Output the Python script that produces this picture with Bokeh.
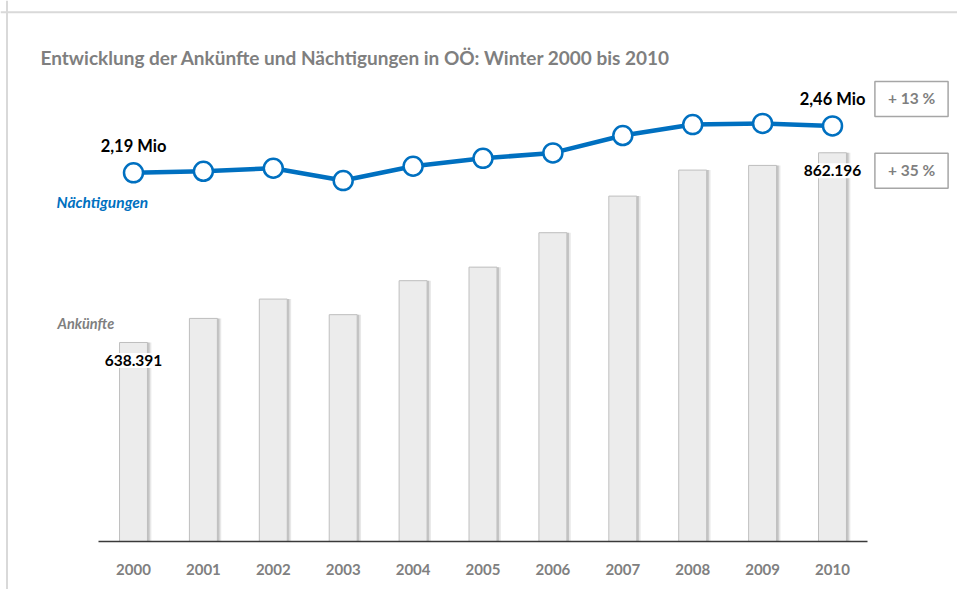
from bokeh.plotting import figure
from bokeh.models import Range1d, Label, ColumnDataSource, Span, FixedTicker
from bokeh.transform import dodge
from bokeh.embed import file_html
from bokeh.resources import INLINE

# ---------------- data ----------------
years = ["2000", "2001", "2002", "2003", "2004", "2005",
         "2006", "2007", "2008", "2009", "2010"]
arrivals = [638391, 666800, 689600, 671200, 711300, 727300,
            767900, 811100, 841800, 847300, 862196]          # Ankünfte
nights_mio = [2.186, 2.195, 2.213, 2.140, 2.225, 2.272,
              2.304, 2.407, 2.472, 2.479, 2.464]             # Nächtigungen (Mio)
title_text = "Entwicklung der Ankünfte und Nächtigungen in OÖ: Winter 2000 bis 2010"
series_names = ["Ankünfte", "Nächtigungen"]

# ---------------- layout / styling ----------------
BLUE = "#0070c0"
GRAY_TXT = "#7f7f7f"
FONT = "Lato"

W, H = 957, 589              # canvas; frame fills the whole canvas
PX_PER_CAT = 69.9            # horizontal pixels per category
FIRST_PX = 133               # pixel x of the first category centre
BASE = 403600                # bar baseline value (arrivals axis)
UNITS_PER_PX = 1179.8        # arrivals per pixel
BASE_PX = 541                # baseline pixel y
N_PX_PER_MIO = 168.66        # pixels per million nights


def cx(px):  # pixel x -> category coordinate
    return (px - FIRST_PX) / PX_PER_CAT


def cy(py):  # pixel y -> arrivals coordinate
    return BASE + (BASE_PX - py) * UNITS_PER_PX


xs = list(range(len(years)))
src = ColumnDataSource(dict(x=xs, arr=arrivals, nights=nights_mio))

p = figure(width=W, height=H,
           x_range=Range1d(cx(0), cx(W)),
           y_range=Range1d(cy(H), cy(0)),
           output_backend="svg", toolbar_location=None,
           y_axis_location=None, min_border=0)
p.extra_y_ranges = {"nights": Range1d(-(H - BASE_PX) / N_PX_PER_MIO,
                                      BASE_PX / N_PX_PER_MIO)}
p.outline_line_color = None
p.xgrid.grid_line_color = None
p.ygrid.grid_line_color = None
p.background_fill_color = "white"
p.border_fill_color = "white"

# x axis drawn inside the frame at the baseline
ax = p.xaxis[0]
ax.fixed_location = BASE
ax.bounds = (xs[0] - 0.5, xs[-1] + 0.5)
ax.ticker = FixedTicker(ticks=xs)
ax.major_label_overrides = {x: y for x, y in zip(xs, years)}
ax.axis_line_color = "#3a3a3a"
ax.axis_line_width = 1.5
ax.major_tick_line_color = None
ax.minor_tick_line_color = None
ax.major_label_text_font = FONT
ax.major_label_text_font_style = "bold"
ax.major_label_text_font_size = "15px"
ax.major_label_text_color = "#808080"
ax.major_label_standoff = 16

# outer frame lines (top / left)
p.add_layout(Span(location=cx(6.5), dimension="height",
                  line_color="#d9d9d9", line_width=2))
p.add_layout(Span(location=cy(11.75), dimension="width",
                  line_color="#d9d9d9", line_width=2))

# bar shadows
for off, alpha in [(0.03, 0.35), (0.055, 0.18)]:
    p.vbar(x=dodge("x", off), top="arr", bottom=BASE,
           width=0.4, source=src, fill_color="#808080", fill_alpha=alpha,
           line_color=None)
# bars
p.vbar(x="x", top="arr", bottom=BASE, width=0.4, source=src,
       fill_color="#ececec", line_color="#bfbfbf", line_width=1)

# line
p.line(x="x", y="nights", source=src, y_range_name="nights",
       line_color=BLUE, line_width=4.5)
p.scatter(x="x", y="nights", source=src, y_range_name="nights",
          size=19, fill_color="white", line_color=BLUE, line_width=2.5)

# ---------------- annotations ----------------
def fmt_mio(v):
    return f"{v:.2f}".replace(".", ",") + " Mio"


def fmt_int(v):
    return f"{v:,}".replace(",", ".")


first, last = xs[0], xs[-1]

# title
p.add_layout(Label(x=cx(40), y=cy(57), text=title_text,
                   text_font=FONT, text_font_style="bold",
                   text_font_size="19px", text_color=GRAY_TXT,
                   text_align="left", text_baseline="middle"))

# Mio labels
for xi, v in [(first, nights_mio[0]), (last, nights_mio[-1])]:
    p.add_layout(Label(x=xi, y=v, y_range_name="nights", text=fmt_mio(v),
                       y_offset=27, text_font=FONT, text_font_style="bold",
                       text_font_size="16.5px", text_color="black",
                       text_align="center", text_baseline="middle"))

# arrival labels
for xi, v in [(first, arrivals[0]), (last, arrivals[-1])]:
    p.add_layout(Label(x=xi, y=v, text=fmt_int(v), y_offset=-18,
                       text_font=FONT, text_font_style="bold",
                       text_font_size="15.5px", text_color="black",
                       text_align="center", text_baseline="middle",
                       background_fill_color="white",
                       padding=dict(left=2, right=2, top=2, bottom=2)))

# series names
p.add_layout(Label(x=first, y=nights_mio[0], y_range_name="nights",
                   text=series_names[1], x_offset=-77, y_offset=-29,
                   text_font=FONT, text_font_style="bold italic",
                   text_font_size="15.5px", text_color=BLUE,
                   text_align="left", text_baseline="middle"))
p.add_layout(Label(x=first, y=arrivals[0], text=series_names[0],
                   x_offset=-76, y_offset=19,
                   text_font=FONT, text_font_style="bold italic",
                   text_font_size="14.5px", text_color=GRAY_TXT,
                   text_align="left", text_baseline="middle"))

# growth boxes
pct_n = round((nights_mio[-1] / nights_mio[0] - 1) * 100)
pct_a = round((arrivals[-1] / arrivals[0] - 1) * 100)
for v, rng, pct in [(nights_mio[-1], "nights", pct_n), (arrivals[-1], "default", pct_a)]:
    yoff = 27 if rng == "nights" else -18
    p.add_layout(Label(x=last, y=v, y_range_name=rng, text=f"+ {pct} %",
                       x_offset=79, y_offset=yoff,
                       text_font=FONT, text_font_style="bold",
                       text_font_size="15.5px", text_color=GRAY_TXT,
                       text_align="center", text_baseline="middle",
                       border_line_color="#a6a6a6", border_line_width=1.5,
                       background_fill_color="white",
                       padding=dict(left=13, right=13, top=8, bottom=9)))

open("out.html", "w").write(file_html(p, INLINE))
